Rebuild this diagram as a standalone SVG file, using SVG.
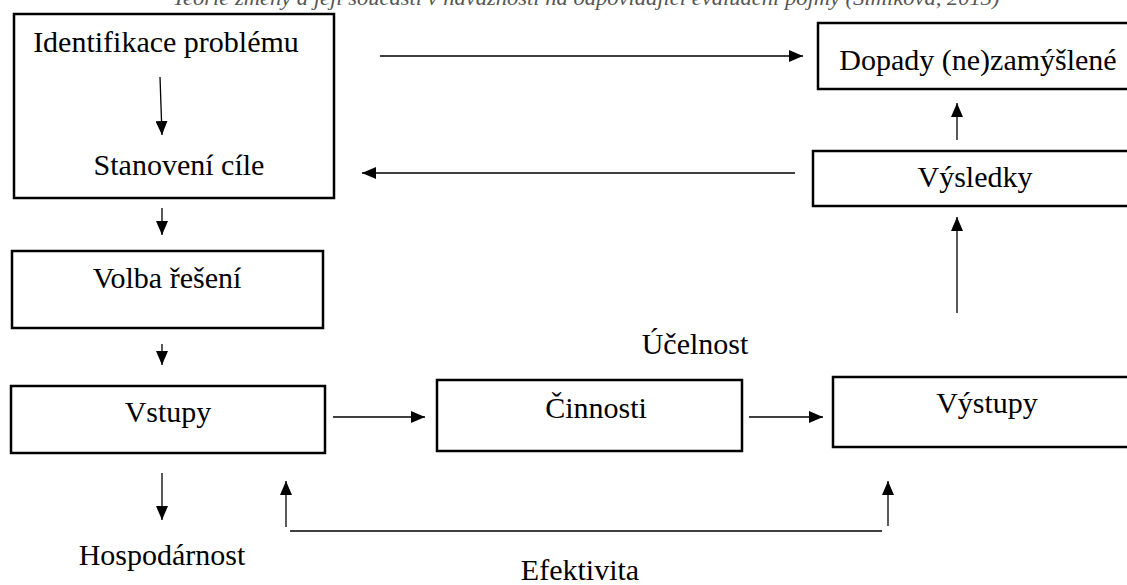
<svg xmlns="http://www.w3.org/2000/svg" width="1127" height="585" viewBox="0 0 1127 585">
<style>
.box{fill:#fff;stroke:#000;stroke-width:2.5}
.t{font-family:"Liberation Serif","Times New Roman",serif;font-size:30px;fill:#000;text-anchor:middle}
.cap{font-family:"Liberation Serif","Times New Roman",serif;font-size:21px;font-style:italic;fill:#555;text-anchor:middle}
.c{stroke:#000;stroke-width:1.3;fill:none}
.a{marker-end:url(#ah)}
</style>
<defs>
<marker id="ah" markerUnits="userSpaceOnUse" markerWidth="14" markerHeight="12" refX="14" refY="6" orient="auto">
<path d="M0,0 L14,6 L0,12 z" fill="#000"/>
</marker>
</defs>
<rect width="1127" height="585" fill="#fff"/>
<text class="cap" x="586" y="5" textLength="827" lengthAdjust="spacingAndGlyphs">Teorie změny a její součásti v návaznosti na odpovídající evaluační pojmy (Šimíková, 2013)</text>
<g id="n-problem">
<rect class="box" x="14" y="14" width="320" height="184"/>
<text class="t" x="166" y="52">Identifikace problému</text>
<text class="t" x="179" y="175">Stanovení cíle</text>
</g>
<g id="n-dopady">
<rect class="box" x="818" y="23" width="330" height="66"/>
<text class="t" x="978" y="70">Dopady (ne)zamýšlené</text>
</g>
<g id="n-vysledky">
<rect class="box" x="813" y="151" width="335" height="55"/>
<text class="t" x="975" y="187">Výsledky</text>
</g>
<g id="n-volba">
<rect class="box" x="12" y="251" width="311" height="77"/>
<text class="t" x="167" y="288">Volba řešení</text>
</g>
<g id="n-vstupy">
<rect class="box" x="11" y="386" width="314" height="67"/>
<text class="t" x="168" y="422">Vstupy</text>
</g>
<g id="n-cinnosti">
<rect class="box" x="437" y="380" width="305" height="71"/>
<text class="t" x="596" y="418">Činnosti</text>
</g>
<g id="n-vystupy">
<rect class="box" x="833" y="377" width="315" height="70"/>
<text class="t" x="987" y="413">Výstupy</text>
</g>
<g id="labels">
<text class="t" x="695" y="354">Účelnost</text>
<text class="t" x="162" y="565">Hospodárnost</text>
<text class="t" x="580" y="580">Efektivita</text>
</g>
<g id="connectors">
<line class="c a" x1="160" y1="77" x2="162" y2="135"/>
<line class="c a" x1="380" y1="56" x2="803" y2="56"/>
<line class="c a" x1="957" y1="140" x2="957" y2="103"/>
<line class="c a" x1="795" y1="173" x2="362" y2="173"/>
<line class="c a" x1="162" y1="208" x2="162" y2="235"/>
<line class="c a" x1="162" y1="344" x2="162" y2="365"/>
<line class="c a" x1="333" y1="417" x2="425" y2="417"/>
<line class="c a" x1="749" y1="417" x2="823" y2="417"/>
<line class="c a" x1="957" y1="313" x2="957" y2="217"/>
<line class="c a" x1="162" y1="473" x2="162" y2="520"/>
<line class="c a" x1="286" y1="527" x2="286" y2="481"/>
<line class="c a" x1="888" y1="526" x2="888" y2="481"/>
<line class="c" x1="290" y1="531" x2="882" y2="531"/>
</g>
</svg>
